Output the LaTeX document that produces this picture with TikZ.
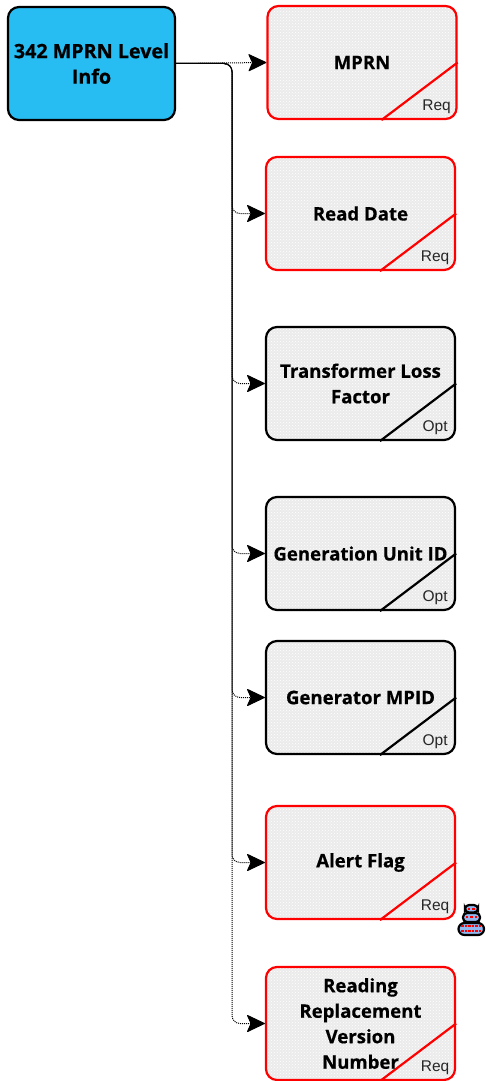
\documentclass[tikz,border=0pt]{standalone}
\usepackage{fontspec}
\setmainfont{Open Sans}[BoldFeatures={FakeBold=0.5}]
\usetikzlibrary{arrows.meta,patterns,calc}
\definecolor{rootblue}{HTML}{27BDF3}
\definecolor{boxgrey}{HTML}{EBEBEB}
\definecolor{iconblue}{HTML}{8FB8F0}
\tikzset{
  x=1pt,y=-1pt,
  leaf/.style={line width=2.2pt,rounded corners=11pt,minimum width=189pt,minimum height=113pt,inner sep=0pt},
  rootbox/.style={leaf,draw=black,fill=rootblue,minimum width=167pt,align=center,font=\bfseries\fontsize{19.7}{25.5}\selectfont},
  label text/.style={align=center,font=\bfseries\fontsize{18.6}{25.5}\selectfont,inner sep=0pt},
  texture/.style={pattern=crosshatch dots,pattern color=white},
  tag/.style={font=\fontsize{15.5}{17}\selectfont\fontspec{Liberation Sans},text=black!85,inner sep=0pt},
  link/.style={line width=1pt,rounded corners=8pt,dash pattern=on 1pt off 1pt,-{Stealth[length=19pt,width=18pt,inset=4pt,round=false]}},
  stackpart/.style={draw=black,line width=2.2pt,rounded corners=4pt,fill=iconblue},
}
\newcommand{\leafbox}[4]{% name, centre, colour, tag
  \node[leaf,fill=boxgrey] (#1) at (#2) {};
  \fill[texture,rounded corners=11pt] (#1.north west) rectangle (#1.south east);
  \draw[#3,line width=2.2pt] ($(#1.south west)+(115,0)$) -- (#1.east);
  \node[leaf,draw=#3] at (#2) {};
  \node[tag] at ($(#1.south east)+(-21,-13)$) {#4};
}
\begin{document}
\begin{tikzpicture}
\useasboundingbox (0,0) rectangle (485,1081);
\node[rootbox] (root) at (91.5,63.5) {342 MPRN Level\\Info};
\leafbox{mprn}{362,62.5}{red}{Req}
\leafbox{date}{360.5,213.5}{red}{Req}
\leafbox{loss}{360.5,383.5}{black}{Opt}
\leafbox{unit}{360.5,553.5}{black}{Opt}
\leafbox{mpid}{360.5,697.5}{black}{Opt}
\leafbox{alert}{360.5,862.5}{red}{Req}
\leafbox{repl}{360.5,1023.5}{red}{Req}
\foreach \n/\t in {mprn/MPRN,date/Read Date,loss/Transformer Loss\\Factor,unit/Generation Unit ID,mpid/Generator MPID,alert/Alert Flag,repl/Reading\\Replacement\\Version\\Number}{
  \node[label text] (\n t) at (\n.center) {\t};
}
\coordinate (trunk) at (232,0);
\draw[link] (root.east) -- (mprn.west);
\draw[link,dash phase=0.5pt] (root.east) -- (root.east -| trunk) -- (date.west -| trunk) -- (date.west);
\draw[link,dash phase=1pt] (root.east) -- (root.east -| trunk) -- (loss.west -| trunk) -- (loss.west);
\draw[link,dash phase=1.5pt] (root.east) -- (root.east -| trunk) -- (unit.west -| trunk) -- (unit.west);
\draw[link] (root.east) -- (root.east -| trunk) -- (mpid.west -| trunk) -- (mpid.west);
\draw[link,dash phase=0.5pt] (root.east) -- (root.east -| trunk) -- (alert.west -| trunk) -- (alert.west);
\draw[link,dash phase=1pt] (root.east) -- (root.east -| trunk) -- (repl.west -| trunk) -- (repl.west);
% stack icon
\draw[stackpart,rounded corners=6pt] (458.5,923) rectangle (484,935);
\draw[stackpart] (463,913) rectangle (480,922);
\draw[stackpart] (465,905) rectangle (478,912.5);
\foreach \x in {462.5,466,469.5,473,476.5,480}{\fill[red] (\x-1.2,925) rectangle +(2.4,2.4); \fill[red] (\x-1.2,930) rectangle +(2.4,2.4);}
\foreach \x in {467,471.5,476}{\fill[red] (\x-1.2,916) rectangle +(2.4,2.4);}
\foreach \x in {469,473.5}{\fill[red] (\x-1.2,907.5) rectangle +(2.4,2);}
\end{tikzpicture}
\end{document}
